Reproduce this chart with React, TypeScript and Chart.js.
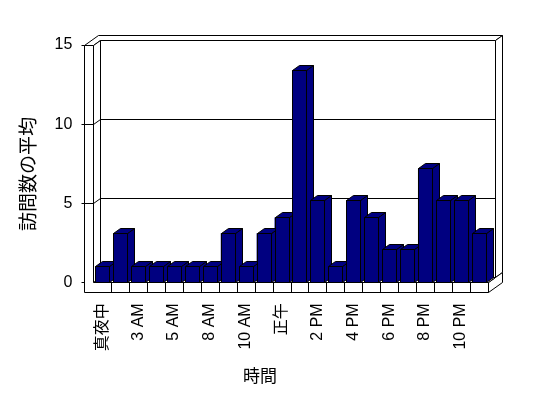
import React, { useEffect, useRef } from "react";
import { Chart, registerables } from "chart.js";

Chart.register(...registerables);

// ---- data ----
const hours = [
  "真夜中", "1 AM", "3 AM", "4 AM", "5 AM", "6 AM", "8 AM", "9 AM", "10 AM", "11 AM", "正午",
  "1 PM", "2 PM", "3 PM", "4 PM", "5 PM", "6 PM", "7 PM", "8 PM", "9 PM", "10 PM", "11 PM",
];
const visits = [1, 3.1, 1, 1, 1, 1, 1, 3.1, 1, 3.1, 4.1, 13.4, 5.2, 1, 5.2, 4.1, 2.1, 2.1, 7.2, 5.2, 5.2, 3.1];
const yMin = 0;
const yMax = 15;
const yStep = 5;
const xTitle = "時間";
const yTitle = "訪問数の平均";

// ---- style ----
const DX = 7;
const DY = -5;
const WALL = 9;
const FLOOR = 9.4;
const NAVY = "#000080";
const LATIN = '"Liberation Sans", Arial, "Noto Sans CJK JP", sans-serif';
const CJK = '"Noto Sans CJK JP", "Liberation Sans", sans-serif';

const s = (v: number) => Math.round(v) + 0.5;

function poly(ctx: CanvasRenderingContext2D, pts: number[][], fill: string) {
  ctx.beginPath();
  pts.forEach((p, i) => (i === 0 ? ctx.moveTo(s(p[0]), s(p[1])) : ctx.lineTo(s(p[0]), s(p[1]))));
  ctx.closePath();
  ctx.fillStyle = fill;
  ctx.fill();
  ctx.stroke();
}
function line(ctx: CanvasRenderingContext2D, x1: number, y1: number, x2: number, y2: number) {
  ctx.beginPath();
  ctx.moveTo(s(x1), s(y1));
  ctx.lineTo(s(x2), s(y2));
  ctx.stroke();
}

const box3d = {
  id: "box3d",
  beforeDatasetsDraw(chart: any) {
    const { ctx, chartArea: a, scales } = chart;
    const ys = scales.y;
    const xs = scales.x;
    const L = a.left, R = a.right, T = a.top, B = a.bottom;
    ctx.save();
    ctx.lineWidth = 1;
    ctx.strokeStyle = "#000";
    // back wall top (merged with left wall top)
    poly(ctx, [
      [L - WALL, T], [L, T], [L + DX, T + DY], [R + DX, T + DY],
      [R + 2 * DX, T + 2 * DY], [L - WALL + 2 * DX, T + 2 * DY],
    ], "#fff");
    // back wall right face + floor right face
    poly(ctx, [[R + DX, T + DY], [R + 2 * DX, T + 2 * DY], [R + 2 * DX, B + 2 * DY], [R + DX, B + DY]], "#fff");
    poly(ctx, [[R, B], [R + 2 * DX, B + 2 * DY], [R + 2 * DX, B + FLOOR + 2 * DY], [R, B + FLOOR]], "#fff");
    // back wall inner face
    poly(ctx, [[L + DX, T + DY], [R + DX, T + DY], [R + DX, B + DY], [L + DX, B + DY]], "#fff");
    // floor top
    poly(ctx, [[L, B], [R, B], [R + DX, B + DY], [L + DX, B + DY]], "#fff");
    // left wall inner face
    poly(ctx, [[L, T], [L + DX, T + DY], [L + DX, B + DY], [L, B]], "#fff");
    // left wall front + floor front
    poly(ctx, [[L - WALL, T], [L, T], [L, B], [R, B], [R, B + FLOOR], [L - WALL, B + FLOOR]], "#fff");
    // gridlines
    for (const t of ys.ticks) {
      const yy = ys.getPixelForValue(t.value);
      if (t.value !== yMin && t.value !== yMax) {
        line(ctx, L + DX, yy + DY, R + DX, yy + DY);
        line(ctx, L, yy, L + DX, yy + DY);
        line(ctx, L - WALL, yy, L, yy);
      }
      line(ctx, L - WALL - 3, yy, L - WALL, yy);
    }
    // floor category ticks
    const n = hours.length;
    for (let i = 1; i < n; i++) {
      const b = (xs.getPixelForValue(i - 1) + xs.getPixelForValue(i)) / 2;
      line(ctx, b, B, b, B + FLOOR);
    }
    ctx.restore();
  },
  afterDatasetsDraw(chart: any) {
    const { ctx } = chart;
    const meta = chart.getDatasetMeta(0);
    ctx.save();
    ctx.lineWidth = 1;
    ctx.strokeStyle = "#000";
    meta.data.forEach((bar: any) => {
      const { x, y, base, width } = bar.getProps(["x", "y", "base", "width"], true);
      const l = x - width / 2, r = x + width / 2;
      poly(ctx, [[r, y], [r + DX, y + DY], [r + DX, base + DY], [r, base]], NAVY);
      poly(ctx, [[l, y], [r, y], [r + DX, y + DY], [l + DX, y + DY]], NAVY);
      poly(ctx, [[l, y], [r, y], [r, base], [l, base]], NAVY);
    });
    ctx.restore();
  },
  afterDraw(chart: any) {
    const { ctx } = chart;
    ctx.save();
    ctx.fillStyle = "#000";
    ctx.textAlign = "center";
    ctx.textBaseline = "middle";
    ctx.font = `17px ${CJK}`;
    ctx.fillText(xTitle, 260, 376);
    ctx.font = `19px ${CJK}`;
    ctx.translate(28, 174);
    ctx.rotate(-Math.PI / 2);
    ctx.fillText(yTitle, 0, 0);
    ctx.restore();
  },
};

export default function App() {
  const ref = useRef<HTMLCanvasElement>(null);
  useEffect(() => {
    document.body.style.margin = "0";
    const chart = new Chart(ref.current!, {
      type: "bar",
      data: {
        labels: hours,
        datasets: [
          {
            data: visits,
            backgroundColor: NAVY,
            borderColor: "#000",
            borderWidth: 0,
            barPercentage: 0.78,
            categoryPercentage: 1,
          },
        ],
      },
      options: {
        responsive: false,
        animation: false,
        devicePixelRatio: 1,
        layout: { padding: { top: 45, right: 60.3, left: 0, bottom: 0 } },
        plugins: { legend: { display: false }, tooltip: { enabled: false } },
        scales: {
          x: {
            grid: { display: false, drawTicks: false },
            border: { display: false },
            afterFit: (sc: any) => { sc.height = 115.7; },
            ticks: {
              autoSkip: false,
              minRotation: 90,
              maxRotation: 90,
              padding: 21,
              color: "#000",
              font: { family: LATIN, size: 16 },
              callback: (_v: any, i: number) => (i % 2 === 0 ? hours[i] : ""),
            },
          },
          y: {
            min: yMin,
            max: yMax,
            grid: { display: false, drawTicks: false },
            border: { display: false },
            afterFit: (sc: any) => { sc.width = 93.3; },
            ticks: {
              stepSize: yStep,
              padding: 21,
              color: "#000",
              font: { family: LATIN, size: 16 },
            },
          },
        },
      },
      plugins: [box3d],
    });
    return () => chart.destroy();
  }, []);
  return (
    <div style={{ width: 548, height: 398 }}>
      <canvas ref={ref} width={548} height={398} />
    </div>
  );
}
